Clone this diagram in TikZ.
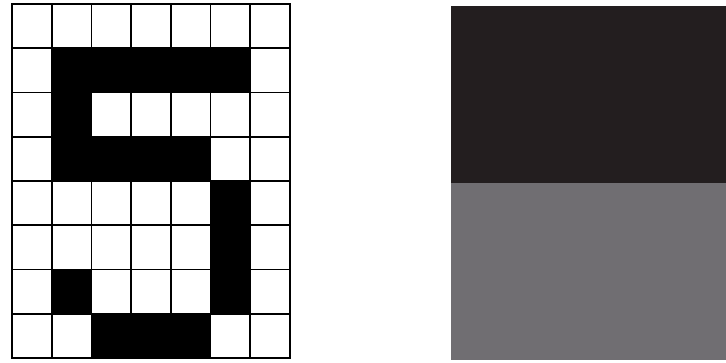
\documentclass[tikz,border=0pt]{standalone}
\usepackage{xcolor}
\definecolor{pxdark}{RGB}{35,30,31}
\definecolor{pxgrey}{RGB}{112,110,114}
\usepackage{tikz}
\usetikzlibrary{calc}

\begin{document}
\begin{tikzpicture}[x=1pt, y=-1pt,
    pixcell/.style={fill=black},
    gridline/.style={draw=black, line width=1.7pt, line cap=rect}
  ]
    \useasboundingbox (0,0) rectangle (726,362);
    % pixel grid: 7 columns x 8 rows
    \def\cw{39.71}
    \def\rh{44.25}
    \foreach \c/\r in {1/1,2/1,3/1,4/1,5/1, 1/2, 1/3,2/3,3/3,4/3, 5/4, 5/5, 1/6,5/6, 2/7,3/7,4/7}
      \fill[pixcell] (12+\c*\cw,4+\r*\rh) rectangle (12+\c*\cw+\cw,4+\r*\rh+\rh);
    \foreach \i in {0,...,7}
      \draw[gridline] (12+\i*\cw,4) -- (12+\i*\cw,358);
    \foreach \j in {0,...,8}
      \draw[gridline] (12,4+\j*\rh) -- (290,4+\j*\rh);
    % grey-level panel
    \fill[pxdark] (451,6) rectangle (726,183);
    \fill[pxgrey] (451,183) rectangle (726,360);
  \end{tikzpicture}
\end{document}
